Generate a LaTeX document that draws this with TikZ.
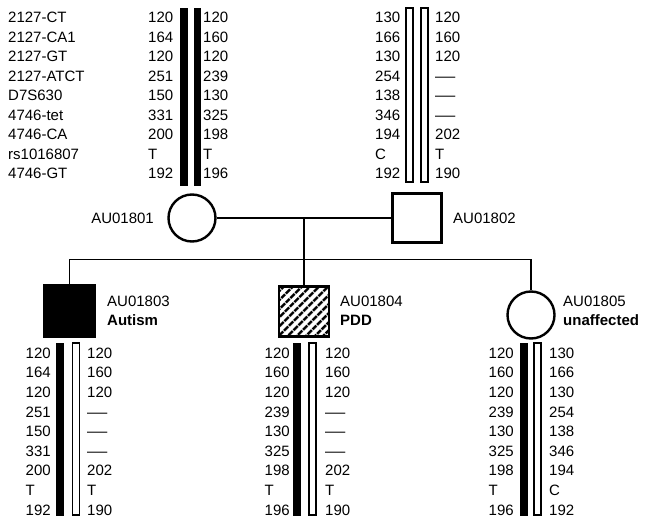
\documentclass[tikz,border=0pt]{standalone}
\usepackage{fontspec}
\setmainfont{Liberation Sans}
\usetikzlibrary{patterns.meta}
\newcommand{\nodash}{\scalebox{1.35}[1]{—}}
\begin{document}
\begin{tikzpicture}[x=1pt,y=-1pt,
  txt/.style={inner sep=0pt, text height=10.7pt, text depth=0pt, font=\fontsize{15}{18}\selectfont, anchor=west},
  boldtxt/.style={txt, font=\fontsize{15}{18}\selectfont\bfseries},
  fullbar/.style={fill=black, draw=black, line width=0.6pt, inner sep=0pt, minimum width=6.5pt},
  openbar/.style={draw=black, fill=white, line width=1.3pt, inner sep=0pt, minimum width=7pt},
  person/.style={draw=black, line width=2.4pt, inner sep=0pt},
  female/.style={person, circle, minimum size=47pt},
  male/.style={person, rectangle, minimum size=49pt},
  link/.style={draw=black, line width=1.2pt}]
\useasboundingbox (0,0) rectangle (645,521);

% ---------- top left: markers and AU01801 haplotypes
\foreach \lab/\a/\b [count=\i] in {2127-CT/120/120, 2127-CA1/164/160, 2127-GT/120/120,
   2127-ATCT/251/239, D7S630/150/130, 4746-tet/331/325, 4746-CA/200/198,
   rs1016807/T/T, 4746-GT/192/196}{
  \node[txt] (mk\i) at (8,{17.3+19.5*(\i-1)}) {\lab};
  \node[txt] (ma\i) at (148,{17.3+19.5*(\i-1)}) {\a};
  \node[txt] (mb\i) at (203,{17.3+19.5*(\i-1)}) {\b};
}
\node[fullbar, minimum height=177pt] (ma-bar) at (184,96.5) {};
\node[fullbar, minimum height=177pt] (mb-bar) at (197.5,96.5) {};

% ---------- top right: AU01802 haplotypes
\foreach \a/\b [count=\i] in {130/120, 166/160, 130/120, 254/\nodash, 138/\nodash, 346/\nodash, 194/202, C/T, 192/190}{
  \node[txt] (fa\i) at (375,{17.3+19.5*(\i-1)}) {\a};
  \node[txt] (fb\i) at (435,{17.3+19.5*(\i-1)}) {\b};
}
\node[openbar, minimum height=174pt] (fa-bar) at (409.5,95) {};
\node[openbar, minimum height=174pt] (fb-bar) at (424.5,95) {};

% ---------- pedigree
\node[female] (mom) at (192,218) {};
\node[male] (dad) at (417,218) {};
\node[txt, anchor=east] (momlbl) at (154,218) {AU01801};
\node[txt] (dadlbl) at (453,218) {AU01802};

\node[male, fill=black, minimum size=51pt] (c1) at (69.5,311) {};
\node[male, minimum size=50pt, pattern={Lines[angle=45,distance=6.5pt,line width=3pt]}] (c2) at (304,311.5) {};
\node[female] (c3) at (531,315) {};

\node[txt] (c1id) at (107,301) {AU01803};
\node[boldtxt] (c1st) at (107,320) {Autism};
\node[txt] (c2id) at (340,301) {AU01804};
\node[boldtxt] (c2st) at (340,320) {PDD};
\node[txt] (c3id) at (563,301) {AU01805};
\node[boldtxt] (c3st) at (563,320) {unaffected};

\coordinate (mid) at (304,218);
\coordinate (sib) at (304,259.5);
\draw[link] (mom) -- (dad);
\draw[link] (mid) -- (c2.north);
\draw[link] (c1.north) |- (sib) -| (c3.north);

% ---------- children haplotypes
\foreach \a/\b [count=\i] in {120/120, 164/160, 120/120, 251/\nodash, 150/\nodash, 331/\nodash, 200/202, T/T, 192/190}{
  \node[txt] (ka\i) at (25.5,{353+19.6*(\i-1)}) {\a};
  \node[txt] (kb\i) at (87,{353+19.6*(\i-1)}) {\b};
}
\node[fullbar, minimum height=172pt] (ka-bar) at (60,429) {};
\node[openbar, minimum height=172pt] (kb-bar) at (76,429) {};

\foreach \a/\b [count=\i] in {120/120, 160/160, 120/120, 239/\nodash, 130/\nodash, 325/\nodash, 198/202, T/T, 196/190}{
  \node[txt] (pa\i) at (264.5,{353+19.6*(\i-1)}) {\a};
  \node[txt] (pb\i) at (325,{353+19.6*(\i-1)}) {\b};
}
\node[fullbar, minimum height=172pt] (pa-bar) at (297,429) {};
\node[openbar, minimum height=172pt] (pb-bar) at (312.5,429) {};

\foreach \a/\b [count=\i] in {120/130, 160/166, 120/130, 239/254, 130/138, 325/346, 198/194, T/C, 196/192}{
  \node[txt] (ua\i) at (488.5,{353+19.6*(\i-1)}) {\a};
  \node[txt] (ub\i) at (549,{353+19.6*(\i-1)}) {\b};
}
\node[fullbar, minimum height=172pt] (ua-bar) at (524,429) {};
\node[openbar, minimum height=172pt] (ub-bar) at (537.5,429) {};
\end{tikzpicture}
\end{document}
